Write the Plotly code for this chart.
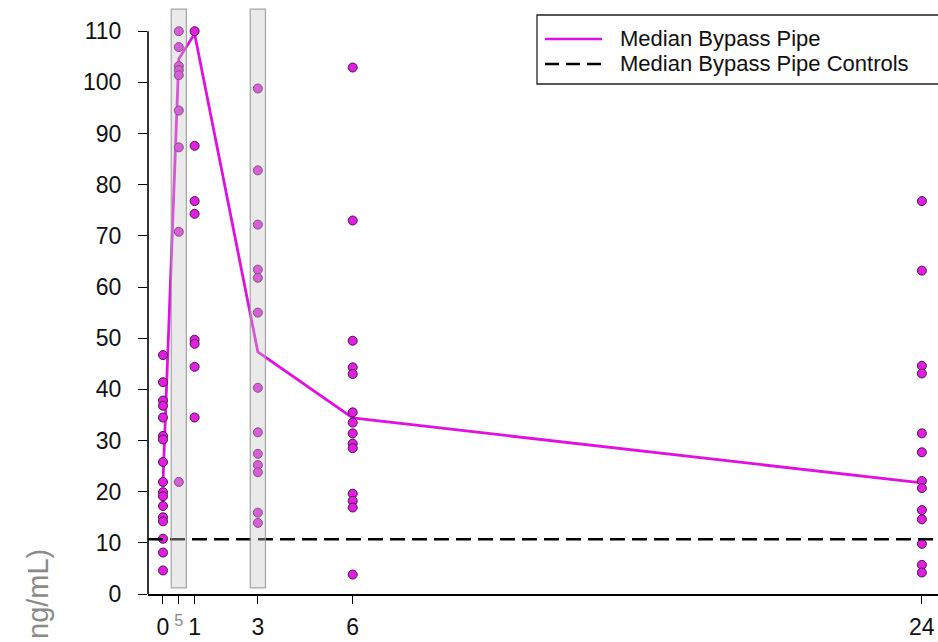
import plotly.graph_objects as go

# ---- data ----
times = [0, 0.5, 1, 3, 6, 24]
tick_text = ["0", "<span style='color:#8a8a8a'><sup>5</sup></span>", "1", "3", "6", "24"]

vals_0 = [46.7, 41.4, 37.8, 36.8, 34.5, 30.9, 30.2, 25.8, 21.9, 19.9, 19.1, 17.2, 15.0, 14.2, 10.8, 8.1, 4.6]
vals_05 = [110.0, 106.9, 103.2, 102.4, 101.4, 94.5, 87.3, 70.8, 21.9]
vals_1 = [110.0, 87.6, 76.8, 74.3, 49.7, 48.9, 44.4, 34.5]
vals_3 = [98.8, 82.8, 72.2, 63.4, 61.8, 55.0, 40.3, 31.6, 27.4, 25.2, 23.8, 15.9, 13.9]
vals_6 = [102.9, 73.0, 49.5, 44.3, 43.0, 35.5, 33.5, 31.4, 29.4, 28.5, 19.6, 18.2, 16.9, 3.8]
vals_24 = [76.8, 63.2, 44.6, 43.1, 31.4, 27.7, 22.1, 20.7, 16.4, 14.6, 9.8, 5.7, 4.2]

median_line = [21.9, 104.6, 109.5, 47.3, 34.4, 21.7]
control_median = 10.7

band_centers = [0.5, 3]
band_halfwidth = 0.24
band_low, band_high = 1.2, 114.3

y_ticks = [0, 10, 20, 30, 40, 50, 60, 70, 80, 90, 100, 110]

FONT = "Liberation Sans, Arial, sans-serif"

# ---- figure ----
fig = go.Figure()

groups = [vals_0, vals_05, vals_1, vals_3, vals_6, vals_24]
xs, ys = [], []
for t, g in zip(times, groups):
    xs += [t] * len(g)
    ys += g

fig.add_trace(go.Scatter(
    x=times, y=median_line, mode="lines", name="Median Bypass Pipe",
    line=dict(color="#e010e0", width=2.8), showlegend=False))

fig.add_trace(go.Scatter(
    x=xs, y=ys, mode="markers", name="Bypass Pipe",
    marker=dict(size=9, color="#e020e0", line=dict(color="#50104f", width=1)),
    showlegend=False))

fig.add_trace(go.Scatter(
    x=[-0.474, 24.51], y=[control_median, control_median], mode="lines",
    name="Median Bypass Pipe Controls",
    line=dict(color="black", width=2.4, dash="15px,7px"), showlegend=False))

shapes = []
for c in band_centers:
    shapes.append(dict(type="rect", xref="x", yref="y",
                       x0=c - band_halfwidth, x1=c + band_halfwidth,
                       y0=band_low, y1=band_high,
                       fillcolor="rgba(200,200,200,0.38)",
                       line=dict(color="rgba(150,150,150,0.85)", width=1.2),
                       layer="above"))

# y-axis line only up to the top tick
shapes.append(dict(type="line", xref="paper", yref="y", x0=0, x1=0, y0=0, y1=110,
                   line=dict(color="black", width=1.6)))

# legend box (manual)
W, H, L = 790.0, 594.0, 148.0
def px(xp):
    return (xp - L) / W
def py(yp):
    return (H - yp) / H

shapes.append(dict(type="rect", xref="paper", yref="paper",
                   x0=px(537), x1=px(950), y0=py(84), y1=py(15),
                   fillcolor="white", line=dict(color="#222", width=1.3), layer="above"))
shapes.append(dict(type="line", xref="paper", yref="paper",
                   x0=px(545), x1=px(602), y0=py(39), y1=py(39),
                   line=dict(color="#e010e0", width=2.6), layer="above"))
shapes.append(dict(type="line", xref="paper", yref="paper",
                   x0=px(545), x1=px(602), y0=py(64), y1=py(64),
                   line=dict(color="black", width=2.6, dash="14px,7px"), layer="above"))

annotations = [
    dict(xref="paper", yref="paper", x=px(618), y=py(39), xanchor="left", yanchor="middle",
         text="Median Bypass Pipe", showarrow=False,
         font=dict(size=22, color="#111", family=FONT)),
    dict(xref="paper", yref="paper", x=px(618), y=py(64), xanchor="left", yanchor="middle",
         text="Median Bypass Pipe Controls", showarrow=False,
         font=dict(size=22, color="#111", family=FONT)),
    dict(xref="paper", yref="paper", x=px(38), y=py(547), xanchor="center", yanchor="top",
         text="ng/mL)", textangle=-90, showarrow=False,
         font=dict(size=29, color="#8a8a8a", family=FONT)),
]

fig.update_layout(
    width=938, height=642,
    margin=dict(l=148, r=0, t=0, b=48, pad=0),
    paper_bgcolor="white", plot_bgcolor="white",
    font=dict(family=FONT, size=23, color="#111"),
    showlegend=False,
    shapes=shapes,
    annotations=annotations,
    xaxis=dict(range=[-0.474, 24.51], tickmode="array", tickvals=times, ticktext=tick_text,
               showgrid=False, zeroline=False, showline=True, linecolor="black", linewidth=1.6,
               ticks="outside", ticklen=8, tickwidth=1.4, tickcolor="black",
               ticklabelstandoff=4, tickfont=dict(size=23)),
    yaxis=dict(range=[0, 116.1], tickmode="array", tickvals=y_ticks,
               showgrid=False, zeroline=False, showline=False,
               ticks="outside", ticklen=9, tickwidth=1.4, tickcolor="black",
               ticklabelstandoff=12, tickfont=dict(size=23)),
)

fig.write_html("out.html")
